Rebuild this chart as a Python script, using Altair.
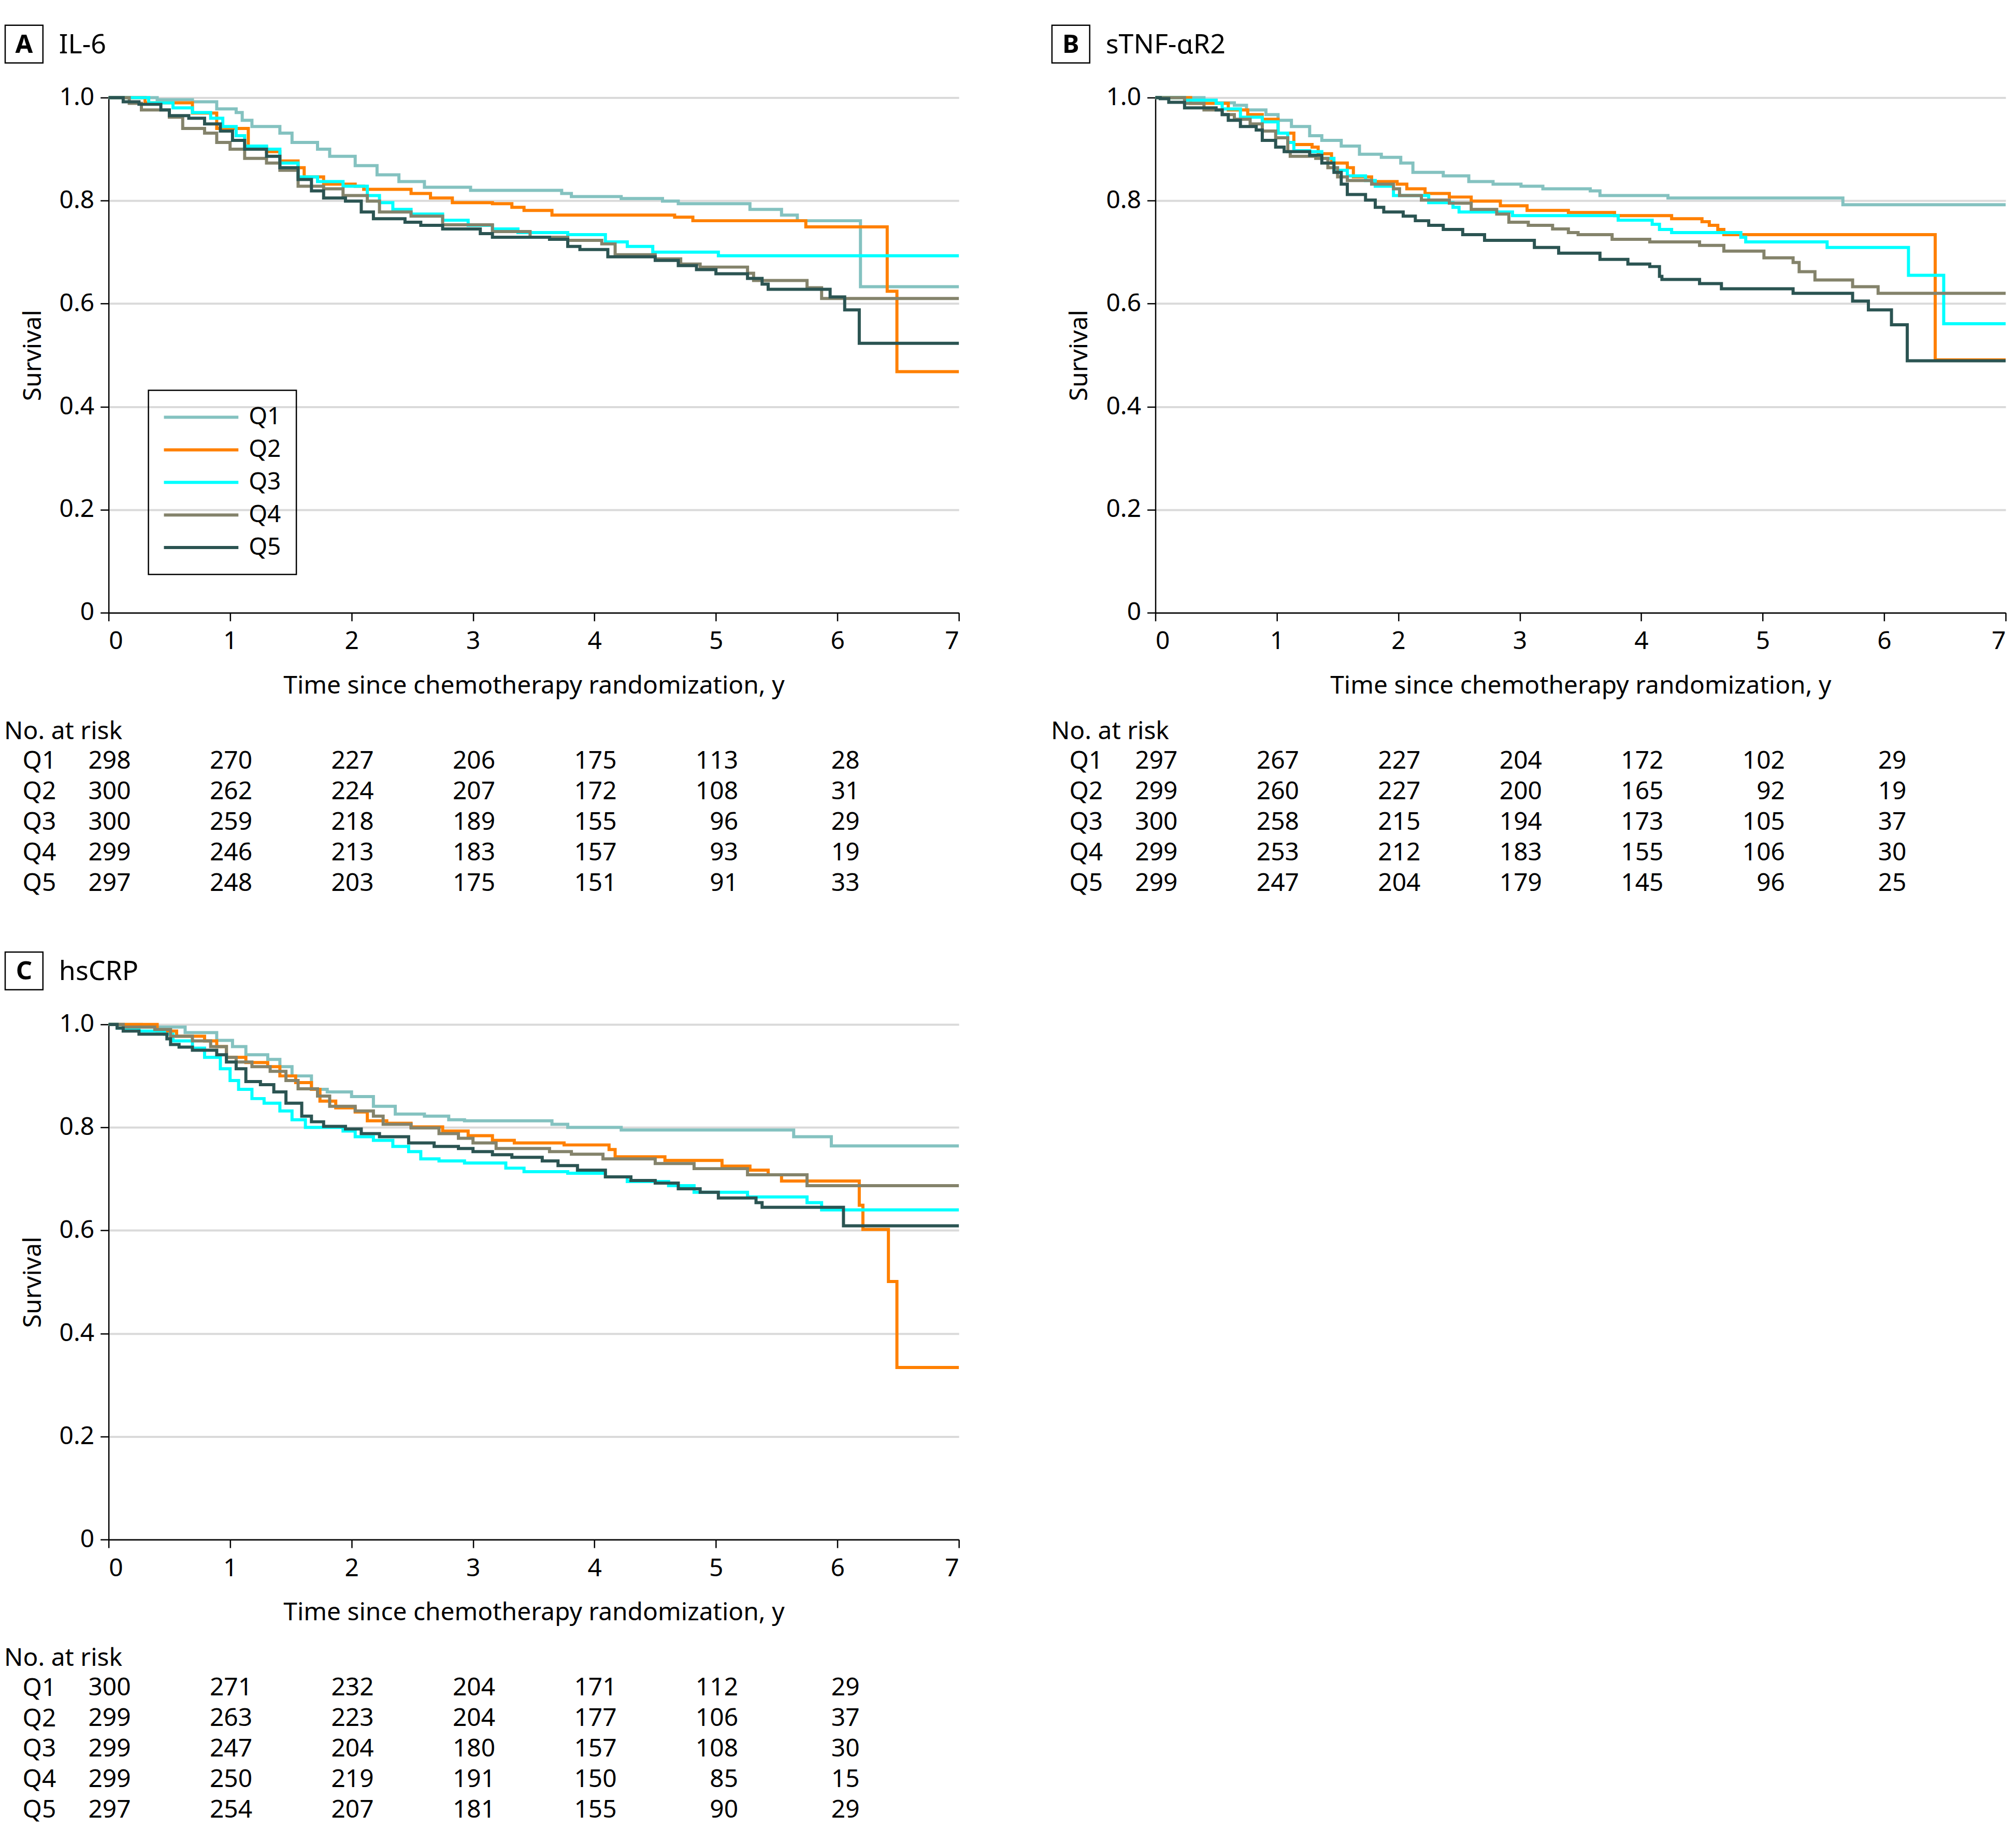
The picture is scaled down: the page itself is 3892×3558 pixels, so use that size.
import altair as alt
import pandas as pd

FONT = "Noto Sans"
GROUPS = ["Q1", "Q2", "Q3", "Q4", "Q5"]
COLORS = ["#84c2c0", "#ff8000", "#00ffff", "#84836b", "#2b5452"]
TICK_YEARS = [0, 1, 2, 3, 4, 5, 6]

# ---------------- Panel A: IL-6 ----------------
A_Q1_t = [0, 0.4, 0.69, 0.89, 1.05, 1.1, 1.18, 1.41, 1.51, 1.72, 1.82, 2.03, 2.21, 2.39, 2.6, 2.98, 3.73, 3.81, 4.22, 4.56, 4.69, 5.28, 5.54, 5.67, 6.19, 7]
A_Q1_s = [1.0, 0.996, 0.992, 0.978, 0.971, 0.956, 0.944, 0.931, 0.913, 0.9, 0.886, 0.868, 0.85, 0.837, 0.826, 0.82, 0.814, 0.808, 0.804, 0.799, 0.794, 0.783, 0.772, 0.761, 0.633, 0.633]
A_Q2_t = [0, 0.3, 0.69, 0.89, 1.15, 1.3, 1.41, 1.56, 1.61, 1.77, 2.03, 2.1, 2.49, 2.65, 2.83, 3.16, 3.32, 3.42, 3.65, 4.66, 4.81, 5.74, 6.41, 6.49, 7]
A_Q2_s = [1.0, 0.99, 0.97, 0.94, 0.904, 0.895, 0.877, 0.864, 0.846, 0.832, 0.828, 0.822, 0.814, 0.805, 0.796, 0.794, 0.787, 0.781, 0.772, 0.768, 0.761, 0.749, 0.624, 0.468, 0.468]
A_Q3_t = [0, 0.33, 0.53, 0.69, 0.84, 0.94, 1.05, 1.12, 1.3, 1.41, 1.56, 1.72, 1.93, 2.13, 2.23, 2.34, 2.49, 2.75, 2.96, 3.16, 3.37, 3.78, 4.09, 4.27, 4.48, 5.02, 7]
A_Q3_s = [1.0, 0.99, 0.98, 0.971, 0.96, 0.944, 0.926, 0.906, 0.9, 0.873, 0.846, 0.837, 0.828, 0.81, 0.796, 0.783, 0.774, 0.762, 0.752, 0.745, 0.738, 0.734, 0.72, 0.711, 0.7, 0.693, 0.693]
A_Q4_t = [0, 0.17, 0.27, 0.5, 0.61, 0.79, 0.89, 1.0, 1.12, 1.3, 1.41, 1.56, 1.77, 1.93, 2.13, 2.23, 2.49, 2.75, 3.16, 3.47, 3.78, 4.06, 4.17, 4.5, 4.71, 4.87, 5.26, 5.31, 5.75, 5.87, 7]
A_Q4_s = [1.0, 0.989, 0.976, 0.962, 0.94, 0.931, 0.913, 0.9, 0.882, 0.873, 0.859, 0.828, 0.823, 0.81, 0.799, 0.778, 0.77, 0.753, 0.74, 0.729, 0.723, 0.716, 0.695, 0.687, 0.677, 0.671, 0.659, 0.645, 0.631, 0.61, 0.61]
A_Q5_t = [0, 0.12, 0.25, 0.43, 0.5, 0.66, 0.79, 0.92, 1.02, 1.12, 1.3, 1.41, 1.56, 1.67, 1.77, 1.95, 2.08, 2.18, 2.44, 2.57, 2.75, 3.06, 3.16, 3.63, 3.78, 3.88, 4.11, 4.5, 4.69, 4.84, 5.0, 5.26, 5.38, 5.43, 5.94, 6.06, 6.18, 7]
A_Q5_s = [1.0, 0.992, 0.987, 0.976, 0.965, 0.96, 0.949, 0.935, 0.917, 0.9, 0.886, 0.864, 0.841, 0.819, 0.805, 0.799, 0.778, 0.765, 0.758, 0.752, 0.745, 0.736, 0.729, 0.725, 0.711, 0.705, 0.691, 0.684, 0.674, 0.666, 0.658, 0.649, 0.638, 0.628, 0.613, 0.588, 0.523, 0.523]

# ---------------- Panel B: sTNF-aR2 ----------------
B_Q1_t = [0, 0.4, 0.5, 0.65, 0.75, 0.91, 1.01, 1.12, 1.27, 1.37, 1.53, 1.68, 1.86, 2.02, 2.12, 2.37, 2.58, 2.78, 3.01, 3.19, 3.58, 3.66, 4.22, 5.66, 7]
B_Q1_s = [1.0, 0.995, 0.99, 0.985, 0.976, 0.967, 0.956, 0.944, 0.926, 0.917, 0.906, 0.89, 0.884, 0.873, 0.855, 0.848, 0.837, 0.832, 0.828, 0.823, 0.819, 0.81, 0.805, 0.792, 0.792]
B_Q2_t = [0, 0.29, 0.6, 0.76, 0.88, 1.01, 1.14, 1.29, 1.34, 1.45, 1.58, 1.63, 1.78, 1.99, 2.07, 2.22, 2.42, 2.6, 2.84, 3.06, 3.4, 3.78, 4.25, 4.5, 4.56, 4.63, 4.68, 6.42, 7]
B_Q2_s = [1.0, 0.989, 0.976, 0.967, 0.958, 0.931, 0.909, 0.904, 0.891, 0.873, 0.864, 0.846, 0.837, 0.832, 0.823, 0.814, 0.807, 0.799, 0.79, 0.781, 0.777, 0.771, 0.765, 0.759, 0.752, 0.744, 0.734, 0.491, 0.491]
B_Q3_t = [0, 0.24, 0.5, 0.55, 0.7, 0.88, 1.01, 1.09, 1.14, 1.27, 1.37, 1.47, 1.58, 1.73, 1.81, 1.96, 2.25, 2.45, 2.5, 2.94, 3.81, 4.09, 4.15, 4.25, 4.82, 4.86, 5.53, 6.2, 6.49, 7]
B_Q3_s = [1.0, 0.995, 0.989, 0.978, 0.962, 0.953, 0.931, 0.913, 0.897, 0.895, 0.882, 0.859, 0.848, 0.839, 0.828, 0.81, 0.796, 0.787, 0.778, 0.771, 0.762, 0.754, 0.744, 0.738, 0.729, 0.72, 0.709, 0.655, 0.561, 0.561]
B_Q4_t = [0, 0.24, 0.4, 0.55, 0.65, 0.78, 0.88, 0.99, 1.09, 1.11, 1.32, 1.42, 1.5, 1.58, 1.78, 1.96, 2.01, 2.19, 2.42, 2.6, 2.81, 2.91, 3.07, 3.27, 3.4, 3.48, 3.76, 4.07, 4.48, 4.68, 5.01, 5.25, 5.3, 5.43, 5.74, 5.95, 7]
B_Q4_s = [1.0, 0.989, 0.976, 0.967, 0.958, 0.949, 0.935, 0.922, 0.895, 0.886, 0.882, 0.864, 0.846, 0.839, 0.832, 0.823, 0.81, 0.801, 0.795, 0.783, 0.774, 0.758, 0.752, 0.745, 0.738, 0.734, 0.725, 0.72, 0.713, 0.702, 0.689, 0.68, 0.662, 0.646, 0.633, 0.62, 0.62]
B_Q5_t = [0, 0.04, 0.11, 0.24, 0.5, 0.55, 0.6, 0.7, 0.83, 0.88, 0.99, 1.06, 1.27, 1.37, 1.47, 1.53, 1.58, 1.73, 1.81, 1.88, 2.04, 2.14, 2.25, 2.37, 2.53, 2.71, 3.12, 3.32, 3.66, 3.89, 4.07, 4.15, 4.17, 4.48, 4.66, 5.25, 5.74, 5.87, 6.06, 6.19, 7]
B_Q5_s = [1.0, 0.998, 0.991, 0.98, 0.976, 0.967, 0.956, 0.944, 0.937, 0.917, 0.904, 0.895, 0.888, 0.873, 0.855, 0.832, 0.812, 0.801, 0.787, 0.778, 0.77, 0.761, 0.752, 0.744, 0.734, 0.723, 0.709, 0.698, 0.686, 0.677, 0.672, 0.653, 0.647, 0.639, 0.629, 0.62, 0.605, 0.588, 0.559, 0.489, 0.489]

# ---------------- Panel C: hsCRP ----------------
C_Q1_t = [0, 0.27, 0.63, 0.89, 1.02, 1.13, 1.31, 1.41, 1.51, 1.67, 1.8, 2.0, 2.18, 2.36, 2.6, 2.8, 2.93, 3.65, 3.78, 4.22, 5.64, 5.95, 7]
C_Q1_s = [1.0, 0.995, 0.984, 0.969, 0.957, 0.941, 0.932, 0.918, 0.9, 0.874, 0.869, 0.86, 0.841, 0.826, 0.822, 0.815, 0.813, 0.806, 0.8, 0.795, 0.782, 0.764, 0.764]
C_Q2_t = [0, 0.4, 0.56, 0.79, 0.89, 0.97, 1.13, 1.31, 1.41, 1.54, 1.67, 1.74, 1.87, 2.03, 2.13, 2.29, 2.49, 2.75, 2.96, 3.16, 3.34, 3.75, 4.12, 4.17, 4.58, 5.05, 5.28, 5.43, 5.54, 6.18, 6.21, 6.42, 6.49, 7]
C_Q2_s = [1.0, 0.987, 0.977, 0.968, 0.957, 0.936, 0.926, 0.918, 0.9, 0.887, 0.874, 0.851, 0.838, 0.83, 0.813, 0.808, 0.801, 0.793, 0.784, 0.775, 0.77, 0.766, 0.757, 0.743, 0.736, 0.725, 0.717, 0.708, 0.696, 0.649, 0.602, 0.501, 0.334, 0.334]
C_Q3_t = [0, 0.07, 0.25, 0.46, 0.53, 0.69, 0.79, 0.92, 1.0, 1.07, 1.18, 1.28, 1.41, 1.51, 1.62, 1.93, 2.03, 2.18, 2.34, 2.47, 2.57, 2.72, 2.93, 3.27, 3.42, 3.78, 4.09, 4.27, 4.61, 4.82, 5.26, 5.75, 5.87, 7]
C_Q3_s = [1.0, 0.993, 0.987, 0.981, 0.968, 0.954, 0.936, 0.914, 0.891, 0.874, 0.856, 0.847, 0.832, 0.815, 0.8, 0.793, 0.782, 0.775, 0.763, 0.753, 0.739, 0.735, 0.731, 0.721, 0.714, 0.711, 0.704, 0.695, 0.687, 0.674, 0.665, 0.654, 0.64, 0.64]
C_Q4_t = [0, 0.12, 0.38, 0.51, 0.69, 0.84, 0.97, 1.05, 1.18, 1.33, 1.46, 1.56, 1.72, 1.82, 2.03, 2.18, 2.26, 2.49, 2.72, 2.88, 3.0, 3.19, 3.63, 3.81, 4.07, 4.5, 4.82, 5.26, 5.75, 7]
C_Q4_s = [1.0, 0.995, 0.99, 0.977, 0.968, 0.957, 0.936, 0.927, 0.918, 0.909, 0.891, 0.875, 0.861, 0.841, 0.832, 0.822, 0.806, 0.799, 0.788, 0.779, 0.77, 0.759, 0.753, 0.748, 0.739, 0.73, 0.72, 0.708, 0.687, 0.687]
C_Q5_t = [0, 0.07, 0.12, 0.25, 0.48, 0.51, 0.58, 0.69, 0.89, 0.97, 1.05, 1.13, 1.25, 1.36, 1.46, 1.59, 1.67, 1.77, 1.95, 2.08, 2.23, 2.47, 2.68, 2.88, 3.0, 3.16, 3.32, 3.57, 3.7, 3.86, 4.09, 4.3, 4.5, 4.69, 4.87, 5.02, 5.33, 5.38, 6.05, 7]
C_Q5_s = [1.0, 0.993, 0.987, 0.981, 0.972, 0.961, 0.956, 0.95, 0.941, 0.927, 0.914, 0.889, 0.883, 0.869, 0.847, 0.822, 0.811, 0.802, 0.797, 0.788, 0.782, 0.77, 0.763, 0.759, 0.753, 0.747, 0.742, 0.735, 0.726, 0.717, 0.704, 0.697, 0.692, 0.681, 0.674, 0.663, 0.654, 0.645, 0.609, 0.609]

# ---------------- Numbers at risk ----------------
A_RISK = {"Q1": [298, 270, 227, 206, 175, 113, 28], "Q2": [300, 262, 224, 207, 172, 108, 31],
          "Q3": [300, 259, 218, 189, 155, 96, 29], "Q4": [299, 246, 213, 183, 157, 93, 19],
          "Q5": [297, 248, 203, 175, 151, 91, 33]}
B_RISK = {"Q1": [297, 267, 227, 204, 172, 102, 29], "Q2": [299, 260, 227, 200, 165, 92, 19],
          "Q3": [300, 258, 215, 194, 173, 105, 37], "Q4": [299, 253, 212, 183, 155, 106, 30],
          "Q5": [299, 247, 204, 179, 145, 96, 25]}
C_RISK = {"Q1": [300, 271, 232, 204, 171, 112, 29], "Q2": [299, 263, 223, 204, 177, 106, 37],
          "Q3": [299, 247, 204, 180, 157, 108, 30], "Q4": [299, 250, 219, 191, 150, 85, 15],
          "Q5": [297, 254, 207, 181, 155, 90, 29]}

PANELS = [
    ("A", "IL-6", [(A_Q1_t, A_Q1_s), (A_Q2_t, A_Q2_s), (A_Q3_t, A_Q3_s), (A_Q4_t, A_Q4_s), (A_Q5_t, A_Q5_s)], A_RISK),
    ("B", "sTNF-αR2", [(B_Q1_t, B_Q1_s), (B_Q2_t, B_Q2_s), (B_Q3_t, B_Q3_s), (B_Q4_t, B_Q4_s), (B_Q5_t, B_Q5_s)], B_RISK),
    ("C", "hsCRP", [(C_Q1_t, C_Q1_s), (C_Q2_t, C_Q2_s), (C_Q3_t, C_Q3_s), (C_Q4_t, C_Q4_s), (C_Q5_t, C_Q5_s)], C_RISK),
]

W = 1644
H = 996
RISK_H = 295
FS = 48


def curve_frame(series):
    rows = []
    for g, (ts, ss) in zip(GROUPS, series):
        assert len(ts) == len(ss), g
        for t, s in zip(ts, ss):
            rows.append({"group": g, "t": t, "s": s})
    return pd.DataFrame(rows)


def curves_chart(letter, name, series, with_legend):
    df = curve_frame(series)
    if with_legend:
        leg = alt.Legend(title=None, orient="none", legendX=77, legendY=566,
                         strokeColor="black", padding=29,
                         symbolType="M-1.47,0H8.13", symbolSize=900, symbolStrokeWidth=6,
                         labelFontSize=46, labelOffset=119, rowPadding=17,
                         labelColor="black")
    else:
        leg = None
    lines = alt.Chart(df).mark_line(interpolate="step-after", strokeWidth=6).encode(
        x=alt.X("t:Q", scale=alt.Scale(domain=[0, 7], nice=False, zero=False),
                axis=alt.Axis(values=list(range(8)), format="d", grid=False,
                              title="Time since chemotherapy randomization, y",
                              labelPadding=16, titlePadding=38)),
        y=alt.Y("s:Q", scale=alt.Scale(domain=[0, 1], nice=False),
                axis=alt.Axis(values=[0, 0.2, 0.4, 0.6, 0.8, 1.0],
                              labelExpr="datum.value == 0 ? '0' : format(datum.value, '.1f')",
                              grid=True, gridColor="#dadada", gridWidth=4,
                              title="Survival", labelPadding=12, titlePadding=26)),
        color=alt.Color("group:N", scale=alt.Scale(domain=GROUPS, range=COLORS), legend=leg),
    )
    lab = pd.DataFrame({"letter": [letter], "name": [name]})
    box = alt.Chart(lab).mark_rect(fill="white", stroke="black", strokeWidth=2.5).encode(
        x=alt.value(-200), x2=alt.value(-127), y=alt.value(-140), y2=alt.value(-67))
    letter_txt = alt.Chart(lab).mark_text(fontSize=49, fontWeight="bold", align="center",
                                          baseline="middle", color="black").encode(
        text="letter:N", x=alt.value(-163.5), y=alt.value(-102))
    name_txt = alt.Chart(lab).mark_text(fontSize=52, align="left", baseline="middle",
                                        color="black").encode(
        text="name:N", x=alt.value(-96), y=alt.value(-102))
    return alt.layer(lines, box, letter_txt, name_txt).properties(width=W, height=H)


def risk_chart(risk):
    rows = []
    for g in GROUPS:
        for t, n in zip(TICK_YEARS, risk[g]):
            rows.append({"group": g, "t": t, "n": n})
    df = pd.DataFrame(rows)
    return alt.Chart(df).mark_text(align="right", dx=43, baseline="middle", fontSize=FS,
                                   color="black").encode(
        x=alt.X("t:Q", scale=alt.Scale(domain=[0, 7], nice=False, zero=False), axis=None),
        y=alt.Y("group:N", sort=GROUPS, scale=alt.Scale(paddingInner=0, paddingOuter=0),
                axis=alt.Axis(title=None, domain=False, ticks=False, grid=False,
                              labelPadding=102, labelFontSize=FS)),
        text="n:Q",
    ).properties(width=W, height=RISK_H,
                 title=alt.TitleParams("No. at risk", anchor="start", dx=-35, fontSize=FS,
                                       fontWeight="normal", offset=4, color="black"))


def panel(i):
    letter, name, series, risk = PANELS[i]
    return alt.vconcat(curves_chart(letter, name, series, i == 0), risk_chart(risk), spacing=40)


top = alt.hconcat(panel(0), panel(1), spacing=166)
chart = alt.vconcat(top, panel(2), spacing=101).properties(
    padding={"left": 0, "top": 36, "right": 0, "bottom": 0}
).configure(
    font=FONT
).configure_view(stroke=None).configure_axis(
    labelFontSize=FS, titleFontSize=FS, titleFontWeight="normal",
    labelColor="black", titleColor="black", domainColor="black", tickColor="black",
    domainWidth=2.5, tickWidth=2.5, tickSize=16, labelFont=FONT, titleFont=FONT
).configure_legend(labelFont=FONT, strokeWidth=2.5).configure_text(font=FONT).configure_title(font=FONT)

chart.save("out.html", embed_options={"renderer": "svg", "actions": False})
